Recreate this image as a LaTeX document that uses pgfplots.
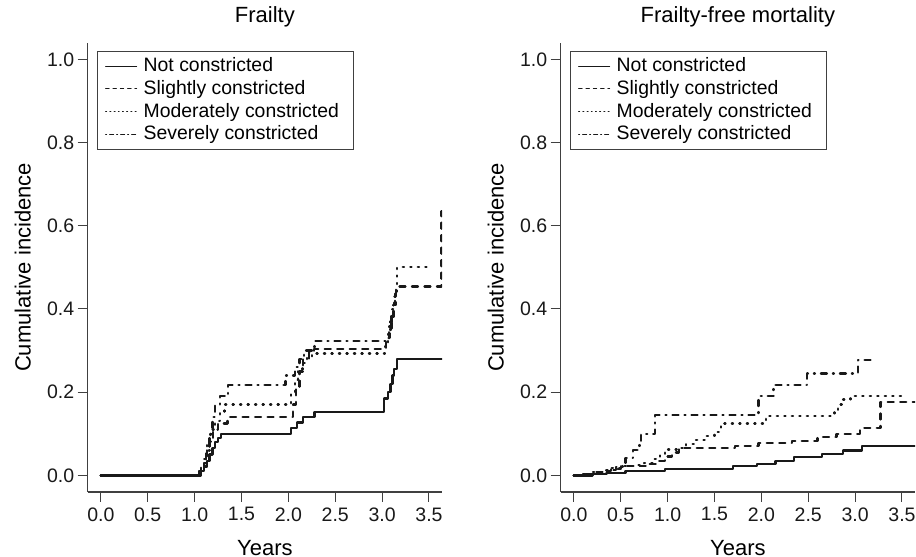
\documentclass[border=0pt]{standalone}
\usepackage{fontspec}
\setmainfont{Liberation Sans}
\usepackage{pgfplots}
\pgfplotsset{compat=1.18}

\pgfplotsset{
  kmaxis/.style={
    scale only axis, width=354.4bp, height=449.3bp,
    xmin=-0.14, xmax=3.64, ymin=-0.04, ymax=1.04,
    axis lines=left, axis line style={-, line width=1.1bp, black!75},
    tick align=outside, major tick length=10bp,
    tick style={line width=1bp, black!75},
    xtick={0,0.5,1,1.5,2,2.5,3,3.5},
    xticklabels={0.0,0.5,1.0,1.5,2.0,2.5,3.0,3.5},
    ytick={0,0.2,0.4,0.6,0.8,1},
    yticklabels={0.0,0.2,0.4,0.6,0.8,1.0},
    tick label style={font=\fontsize{19.5bp}{23bp}\selectfont, black!90},
    xticklabel style={yshift=-2bp},
    title style={at={(axis description cs:0.5,1)}, anchor=center, yshift=19.5bp,
      font=\fontsize{22bp}{26bp}\selectfont},
    xlabel={Years},
    xlabel style={at={(axis description cs:0.5,0)}, anchor=center, yshift=-56bp,
      font=\fontsize{22bp}{26bp}\selectfont},
    ylabel={Cumulative incidence},
    ylabel style={at={(axis description cs:-0.183,0.5)}, anchor=center,
      font=\fontsize{22bp}{26bp}\selectfont},
    legend cell align=left,
    legend style={at={(axis description cs:0.0254,0.9822)}, anchor=north west,
      draw=black!75, line width=1bp, fill=white,
      inner xsep=8bp, inner ysep=6bp, row sep=4.7bp,
      font=\fontsize{19.4bp}{22bp}\selectfont,
      nodes={inner xsep=6.6bp, inner ysep=0pt, text height=14.5bp, text depth=3.5bp}},
    every axis plot/.append style={line width=2.3bp, line cap=round, line join=round,
      black!90, const plot},
  },
  sNot/.style={solid,
    legend image code/.code={\draw[line width=0.9bp] (0bp,0bp) -- (31bp,0bp);}},
  sSl/.style={dash pattern=on 6bp off 6.5bp,
    legend image code/.code={\draw[line width=0.9bp, dash pattern=on 3.5bp off 3.8bp] (0bp,0bp) -- (31bp,0bp);}},
  sMo/.style={dash pattern=on 1.2bp off 6.3bp,
    legend image code/.code={\draw[line width=0.9bp, dash pattern=on 1bp off 3.2bp] (0bp,0bp) -- (31bp,0bp);}},
  sSe/.style={dash pattern=on 1bp off 6bp on 6bp off 6bp,
    legend image code/.code={\draw[line width=0.9bp, dash pattern=on 1bp off 3bp on 4bp off 3bp] (0bp,0bp) -- (31bp,0bp);}},
}

\begin{document}
\begin{tikzpicture}
\useasboundingbox (0bp,0bp) rectangle (916bp,557bp);

% left panel
\begin{axis}[kmaxis, at={(87.7bp,65bp)}, anchor=south west, title={Frailty}]
\addplot[sNot] coordinates {(0,0)(1.07,0.01)(1.10,0.02)(1.13,0.035)(1.16,0.05)(1.19,0.065)
  (1.22,0.08)(1.25,0.09)(1.28,0.1)(2.03,0.113)(2.09,0.127)(2.16,0.14)(2.28,0.153)
  (3.02,0.185)(3.06,0.2)(3.09,0.22)(3.11,0.24)(3.13,0.255)(3.16,0.28)(3.64,0.28)};
\addplot[sSl] coordinates {(0,0)(1.05,0.01)(1.1,0.03)(1.13,0.06)(1.16,0.085)(1.2,0.11)
  (1.25,0.125)(1.35,0.14)(2.05,0.17)(2.08,0.21)(2.12,0.25)(2.16,0.28)(2.22,0.295)
  (2.27,0.303)(3.04,0.32)(3.07,0.35)(3.1,0.38)(3.12,0.41)(3.15,0.454)(3.635,0.635)};
\addplot[sMo] coordinates {(0,0)(1.05,0.01)(1.1,0.04)(1.13,0.08)(1.17,0.11)(1.22,0.13)
  (1.27,0.15)(1.32,0.17)(2.03,0.2)(2.07,0.23)(2.1,0.25)(2.15,0.27)(2.2,0.285)(2.25,0.293)
  (3.03,0.31)(3.06,0.34)(3.09,0.37)(3.11,0.4)(3.13,0.43)(3.16,0.5)(3.5,0.5)};
\addplot[sSe] coordinates {(0,0)(1.07,0.02)(1.12,0.06)(1.16,0.1)(1.19,0.14)(1.22,0.17)
  (1.27,0.19)(1.36,0.217)(1.97,0.24)(2.07,0.26)(2.12,0.28)(2.17,0.3)(2.28,0.323)
  (3.05,0.33)(3.08,0.36)(3.1,0.39)(3.12,0.41)(3.14,0.45)};
\legend{Not constricted, Slightly constricted, Moderately constricted, Severely constricted}
\end{axis}

% right panel
\begin{axis}[kmaxis, at={(560.7bp,65bp)}, anchor=south west, title={Frailty-free mortality}]
\addplot[sNot] coordinates {(0,0)(0.2,0.003)(0.35,0.006)(0.55,0.01)(0.97,0.016)(1.7,0.022)
  (1.95,0.028)(2.15,0.034)(2.35,0.044)(2.65,0.051)(2.87,0.06)(3.07,0.071)(3.64,0.071)};
\addplot[sSl] coordinates {(0,0)(0.1,0.002)(0.2,0.005)(0.3,0.01)(0.4,0.015)(0.5,0.022)
  (0.8,0.028)(0.9,0.035)(0.97,0.045)(1.05,0.055)(1.12,0.065)(1.72,0.07)(1.97,0.077)
  (2.33,0.083)(2.6,0.092)(2.8,0.1)(3.05,0.113)(3.27,0.177)(3.64,0.177)};
\addplot[sMo] coordinates {(0,0)(0.1,0.003)(0.2,0.008)(0.3,0.012)(0.38,0.017)(0.5,0.022)
  (0.65,0.025)(0.75,0.03)(0.85,0.04)(0.92,0.05)(0.97,0.062)(1.1,0.066)(1.2,0.075)
  (1.3,0.085)(1.4,0.095)(1.5,0.105)(1.57,0.125)(2.05,0.143)(2.78,0.155)(2.82,0.17)
  (2.87,0.182)(2.95,0.19)(3.55,0.19)};
\addplot[sSe] coordinates {(0,0)(0.1,0.004)(0.22,0.008)(0.35,0.013)(0.45,0.02)(0.52,0.03)
  (0.55,0.041)(0.63,0.061)(0.7,0.08)(0.72,0.1)(0.865,0.145)(1.97,0.19)(2.13,0.217)
  (2.49,0.245)(3.03,0.277)(3.22,0.277)};
\legend{Not constricted, Slightly constricted, Moderately constricted, Severely constricted}
\end{axis}
\end{tikzpicture}
\end{document}
